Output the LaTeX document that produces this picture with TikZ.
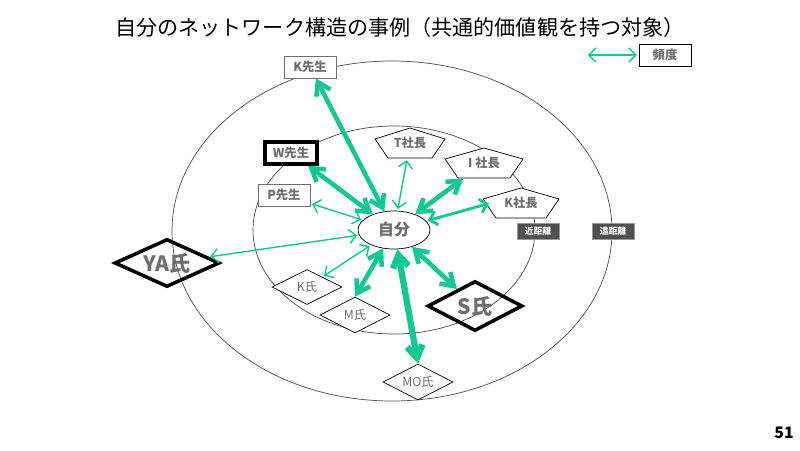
\documentclass[tikz,border=0pt]{standalone}
\usepackage{fontspec}
\setmainfont{Noto Sans CJK JP}
\usetikzlibrary{shapes.geometric,arrows.meta,positioning}
\definecolor{link}{RGB}{20,200,150}
\definecolor{lab}{RGB}{110,110,110}
\definecolor{tagbg}{RGB}{80,80,80}
\newcommand{\pentaround}[2]{% node name, half width
  \draw[fill=white] ([shift={(0,-15)}]#1.center) -- ([shift={(#2,-4)}]#1.center)
    -- ([shift={(#2-13,15)}]#1.center) -- ([shift={(-#2+13,15)}]#1.center)
    -- ([shift={(-#2,-4)}]#1.center) -- cycle;}

\begin{document}
\begin{tikzpicture}[x=0.02cm,y=-0.02cm]
  % Settings
  \tikzset{
    box/.style={draw=lab, shape=rectangle, minimum width=1.04cm, minimum height=.44cm, inner sep=1pt, font=\scriptsize\bfseries, text=lab},
    strong/.style={draw=black, line width=2pt},
    dia/.style={draw, shape=diamond, aspect=2, inner sep=0pt, font=\scriptsize, text=lab},
    pent/.style={shape=rectangle, minimum width=1.2cm, minimum height=.6cm, inner sep=0pt, font=\scriptsize\bfseries, text=lab},
    tag/.style={draw=black!40, fill=tagbg, text=white, minimum width=.84cm, minimum height=.32cm, inner sep=1pt, font=\tiny\bfseries},
    lnk/.style={draw=link, {Straight Barb[length=4pt]}-{Straight Barb[length=4pt]}, line width=.8pt, shorten <=1pt, shorten >=1pt},
    lnkm/.style={lnk, line width=1.6pt},
    lnkb/.style={draw=link, {Straight Barb[length=7pt,width=9pt]}-{Straight Barb[length=7pt,width=9pt]}, line width=2.6pt},
    lnkx/.style={lnkb, line width=3.6pt},
  }
  \useasboundingbox (0,0) rectangle (800,450);

  \node[font=\large] (title) at (400,27) {自分のネットワーク構造の事例（共通的価値観を持つ対象）};
  \node[font=\bfseries\rmfamily\small] (page) at (784,433) {51};

  % Distance rings
  \draw[black!70, line width=.4pt] (392,231) ellipse [x radius=220, y radius=170];
  \draw[black!70, line width=.4pt] (394,230) ellipse [x radius=141, y radius=104];

  % Legend
  \coordinate (la) at (586,55);
  \node[box, draw=black] (freq) at (665,55) {頻度};
  \draw[lnk] (la) -- (freq.west);

  % Nodes
  \node[draw, ellipse, minimum width=1.44cm, minimum height=.76cm, fill=white, font=\small\bfseries, text=lab] (me) at (394,230) {自分};
  \node[box, fill=white] (kt) at (310,67) {K先生};
  \node[box, strong, fill=white] (wt) at (291,153) {W先生};
  \node[box, fill=white] (pt) at (284,195) {P先生};
  \node[dia, strong, minimum width=2.1cm, minimum height=.96cm, font=\large\bfseries] (ya) at (167,263) {YA氏};
  \node[dia, minimum width=1.4cm, minimum height=.7cm, fill=white] (k) at (307,287) {K氏};
  \node[dia, minimum width=1.4cm, minimum height=.72cm, fill=white] (m) at (355,315) {M氏};
  \node[dia, strong, minimum width=1.9cm, minimum height=1cm, font=\large\bfseries] (s) at (475,306) {S氏};
  \node[dia, minimum width=1.4cm, minimum height=.72cm, fill=white] (mo) at (418,382) {MO氏};
  \coordinate (tpc) at (410,143); \pentaround{tpc}{35}
  \node[pent] (tp) at (410,143) {T社長};
  \coordinate (ipc) at (484,163); \pentaround{ipc}{39}
  \node[pent] (ip) at (484,163) {I 社長};
  \coordinate (kpc) at (521,203); \pentaround{kpc}{38}
  \node[pent] (kp) at (521,203) {K社長};
  \node[tag] (near) at (538,231) {近距離};
  \node[tag] (far) at (613,231) {遠距離};

  % Arrows
  \draw[lnkb] (kt) -- (me);
  \draw[lnkb] (wt) -- (me);
  \draw[lnk] (pt) -- (me);
  \draw[lnk] (ya) -- (me);
  \draw[lnk] (k) -- (me);
  \draw[lnkb] (m.north) -- (me);
  \draw[lnkx] (mo.north) -- (me);
  \draw[lnkb] (s) -- (me);
  \draw[lnk] (tp) -- (me);
  \draw[lnkb] (ip) -- (me);
  \draw[lnkm] (kp.west) -- (me);
\end{tikzpicture}
\end{document}
